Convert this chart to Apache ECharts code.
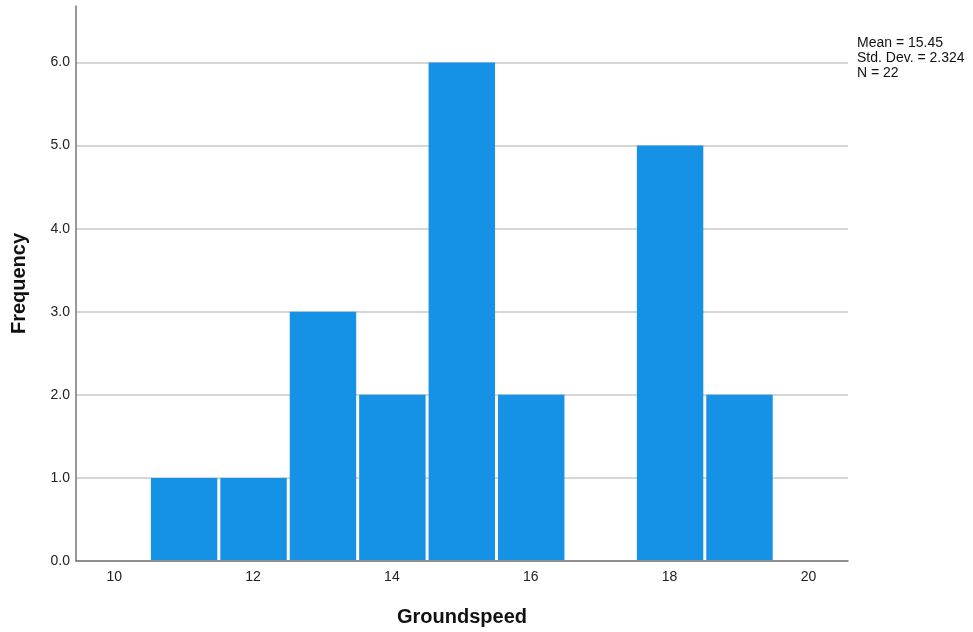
<!DOCTYPE html>
<html><head><meta charset="utf-8">
<script src="https://cdn.jsdelivr.net/npm/echarts@6/dist/echarts.min.js"></script>
<style>html,body{margin:0;padding:0;background:#fff}#c{width:973px;height:632px}</style>
</head><body><div id="c"></div>
<script>
const binStarts = [10.5, 11.5, 12.5, 13.5, 14.5, 15.5, 16.5, 17.5, 18.5];
const binWidth = 1;
const frequencies = [1, 1, 3, 2, 6, 2, 0, 5, 2];
const statsLines = ['Mean = 15.45', 'Std. Dev. = 2.324', 'N = 22'];
const xTicks = [10, 12, 14, 16, 18, 20];

const data = binStarts.map((s, i) => [s, s + binWidth, frequencies[i]]);
const chart = echarts.init(document.getElementById('c'));
const font = 'Liberation Sans, Arial, sans-serif';
chart.setOption({
  animation: false,
  grid: {left: 76, right: 125, top: 6, bottom: 71, outerBoundsMode: 'none', containLabel: false},
  xAxis: {
    type: 'value', min: 9.45, max: 20.57,
    name: 'Groundspeed', nameLocation: 'middle', nameGap: 46,
    nameTextStyle: {fontFamily: font, fontSize: 20, fontWeight: 'bold', color: '#111'},
    axisLine: {show: true, lineStyle: {color: '#777', width: 1.5}},
    axisTick: {show: false},
    splitLine: {show: false},
    axisLabel: {
      fontFamily: font, fontSize: 14, color: '#222', margin: 9,
      customValues: xTicks,
      formatter: v => String(v)
    },
    customValues: xTicks
  },
  yAxis: {
    type: 'value', min: 0, max: 6.68, interval: 1,
    name: 'Frequency', nameLocation: 'middle', nameGap: 47, nameRotate: 90,
    nameTextStyle: {fontFamily: font, fontSize: 20, fontWeight: 'bold', color: '#111'},
    axisLine: {show: true, lineStyle: {color: '#777', width: 1.5}},
    axisTick: {show: false},
    splitLine: {show: true, showMaxLine: false, lineStyle: {color: '#c8c8c8', width: 1.5}},
    axisLabel: {
      fontFamily: font, fontSize: 14, color: '#222', margin: 6,
      showMaxLabel: false,
      formatter: v => v.toFixed(1)
    }
  },
  series: [{
    type: 'custom',
    data: data,
    encode: {x: [0, 1], y: 2},
    renderItem: function (params, api) {
      if (!api.value(2)) return null;
      const p0 = api.coord([api.value(0), 0]);
      const p1 = api.coord([api.value(1), api.value(2)]);
      const inset = 1.5;
      return {
        type: 'rect',
        shape: {x: p0[0] + inset + 0.5, y: p1[1], width: p1[0] - p0[0] - 2 * inset, height: p0[1] - p1[1] - 1},
        style: {fill: '#1591e5'}
      };
    }
  }],
  graphic: [{
    type: 'text', left: 857, top: 36,
    style: {text: statsLines.join('\n'), fontFamily: font, fontSize: 14, lineHeight: 15, fill: '#111'}
  }]
});
</script></body></html>
